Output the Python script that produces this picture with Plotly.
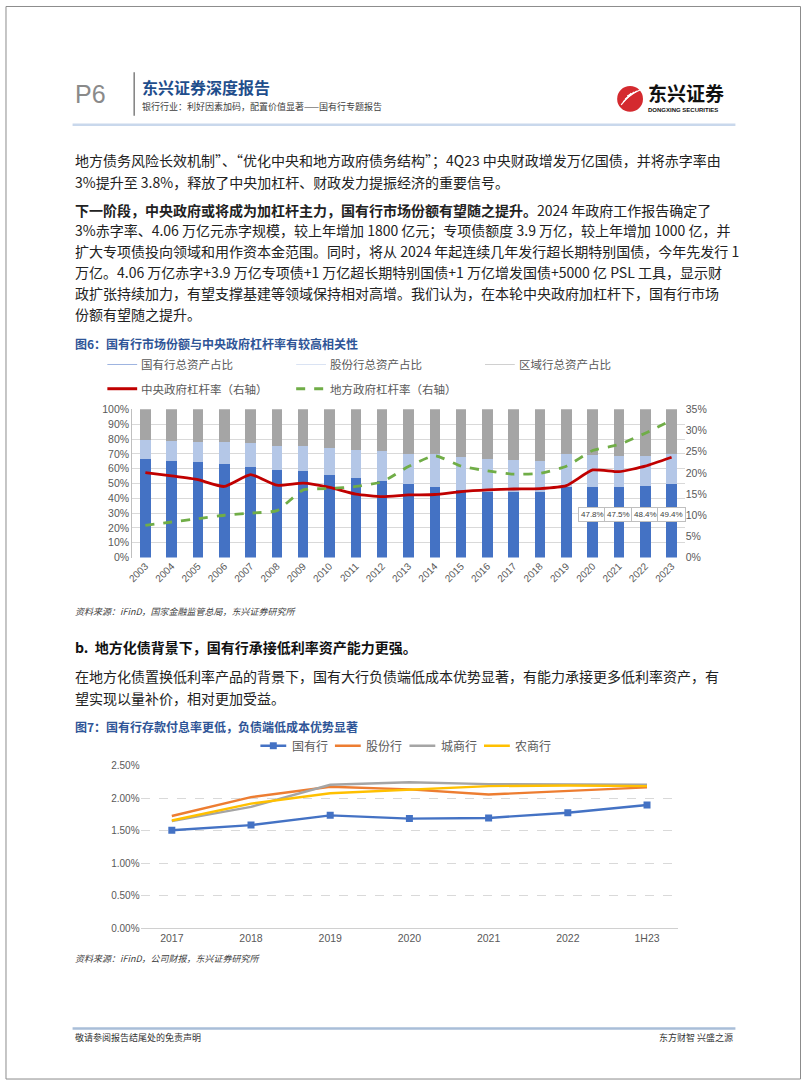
import plotly.graph_objects as go

W, H = 802, 1087

# ---------------- data: chart 1 ----------------
years = ["2003", "2004", "2005", "2006", "2007", "2008", "2009", "2010", "2011", "2012", "2013",
         "2014", "2015", "2016", "2017", "2018", "2019", "2020", "2021", "2022", "2023"]
soe_share = [66.7, 65.1, 64.4, 63.3, 61.3, 59.1, 58.4, 55.8, 54.0, 51.8, 49.6,
             47.8, 45.3, 44.0, 44.0, 44.2, 47.8, 47.8, 47.5, 48.4, 49.4]
joint_share = [12.6, 13.6, 13.8, 14.5, 16.0, 16.5, 17.2, 18.2, 18.9, 20.0, 20.4,
               21.8, 22.5, 22.4, 21.6, 20.9, 21.8, 21.5, 21.4, 20.5, 20.2]
regional_share = [20.7, 21.3, 21.8, 22.2, 22.7, 24.4, 24.4, 26.0, 27.1, 28.2, 30.0,
                  30.4, 32.2, 33.6, 34.4, 34.9, 30.4, 30.7, 31.1, 31.1, 30.4]
central_lev = [20.1, 19.3, 18.4, 16.8, 19.6, 17.1, 17.6, 16.6, 15.0, 14.4, 14.8,
               14.9, 15.6, 16.0, 16.2, 16.3, 17.0, 20.7, 20.3, 21.6, 23.7]
local_lev = [7.6, 8.4, 9.2, 10.0, 10.5, 11.1, 16.0, 16.3, 16.8, 17.9, 21.5,
             24.1, 21.6, 20.5, 19.7, 19.9, 21.6, 25.3, 26.7, 29.4, 32.5]
labeled_years = ["2020", "2021", "2022", "2023"]
series1_names = ["国有行总资产占比", "股份行总资产占比", "区域行总资产占比",
                 "中央政府杠杆率（右轴）", "地方政府杠杆率（右轴）"]

# ---------------- data: chart 2 ----------------
periods = ["2017", "2018", "2019", "2020", "2021", "2022", "1H23"]
bank_names = ["国有行", "股份行", "城商行", "农商行"]
soe_rate = [1.51, 1.59, 1.74, 1.69, 1.70, 1.78, 1.90]
joint_rate = [1.73, 2.02, 2.18, 2.14, 2.06, 2.12, 2.17]
city_rate = [1.65, 1.87, 2.21, 2.25, 2.22, 2.21, 2.21]
rural_rate = [1.66, 1.92, 2.08, 2.14, 2.19, 2.20, 2.19]

# ---------------- texts ----------------
header_title = "东兴证券深度报告"
header_sub = "银行行业：利好因素加码，配置价值显著——国有行专题报告"
para1 = ["地方债务风险长效机制”、“优化中央和地方政府债务结构”；4Q23 中央财政增发万亿国债，并将赤字率由",
         "3%提升至 3.8%，释放了中央加杠杆、财政发力提振经济的重要信号。"]
para2 = ["<b>下一阶段，中央政府或将成为加杠杆主力，国有行市场份额有望随之提升。</b>2024 年政府工作报告确定了",
         "3%赤字率、4.06 万亿元赤字规模，较上年增加 1800 亿元；专项债额度 3.9 万亿，较上年增加 1000 亿，并",
         "扩大专项债投向领域和用作资本金范围。同时，将从 2024 年起连续几年发行超长期特别国债，今年先发行 1",
         "万亿。4.06 万亿赤字+3.9 万亿专项债+1 万亿超长期特别国债+1 万亿增发国债+5000 亿 PSL 工具，显示财",
         "政扩张持续加力，有望支撑基建等领域保持相对高增。我们认为，在本轮中央政府加杠杆下，国有行市场",
         "份额有望随之提升。"]
fig6_title = "图6：国有行市场份额与中央政府杠杆率有较高相关性"
fig6_src = "资料来源：iFinD，国家金融监管总局，东兴证券研究所"
sec_b = "b.  地方化债背景下，国有行承接低利率资产能力更强。"
para3 = ["在地方化债置换低利率产品的背景下，国有大行负债端低成本优势显著，有能力承接更多低利率资产，有",
         "望实现以量补价，相对更加受益。"]
fig7_title = "图7：国有行存款付息率更低，负债端低成本优势显著"
fig7_src = "资料来源：iFinD，公司财报，东兴证券研究所"
footer_left = "敬请参阅报告结尾处的免责声明"
footer_right = "东方财智 兴盛之源"


def X(p):
    return p / W


def Y(p):
    return 1 - p / H


CJK = "Noto Sans CJK SC, Liberation Sans, sans-serif"
NUM = "Liberation Sans, Arial, sans-serif"
GREY = "#595959"
BODY = 14

fig = go.Figure()

# chart 1 bars
bar_colors = ["#4472C4", "#B4C7E7", "#A5A5A5"]
for name, vals, col in zip(series1_names[:3], [soe_share, joint_share, regional_share], bar_colors):
    fig.add_trace(go.Bar(x=years, y=vals, name=name, marker=dict(color=col, line=dict(width=0)),
                         xaxis="x", yaxis="y", showlegend=False))
fig.add_trace(go.Scatter(x=years, y=central_lev, name=series1_names[3], mode="lines",
                         line=dict(color="#C00000", width=2.8, shape="spline", smoothing=0.5),
                         xaxis="x", yaxis="y2", showlegend=False))
fig.add_trace(go.Scatter(x=years, y=local_lev, name=series1_names[4], mode="lines",
                         line=dict(color="#70AD47", width=2.8, dash="dash", shape="spline", smoothing=0.5),
                         xaxis="x", yaxis="y2", showlegend=False))

# chart 2 lines
line_colors = ["#4472C4", "#ED7D31", "#A5A5A5", "#FFC000"]
for i, (name, vals, col) in enumerate(zip(bank_names, [soe_rate, joint_rate, city_rate, rural_rate], line_colors)):
    fig.add_trace(go.Scatter(x=periods, y=vals, name=name,
                             mode="lines+markers" if i == 0 else "lines",
                             marker=dict(symbol="square", size=7, color=col),
                             line=dict(color=col, width=2.4),
                             xaxis="x2", yaxis="y3", showlegend=False))

ann = []
shapes = []


def text(x, y, s, size, color="#222", bold=False, italic=False, anchor="left", family=CJK):
    if bold:
        s = "<b>" + s + "</b>"
    if italic:
        s = "<i>" + s + "</i>"
    ann.append(dict(x=X(x), y=Y(y), xref="paper", yref="paper", text=s, showarrow=False,
                    xanchor=anchor, yanchor="middle", font=dict(size=size, color=color, family=family)))


def hline(x0, x1, y, color, width, dash="solid"):
    shapes.append(dict(type="line", xref="paper", yref="paper", x0=X(x0), x1=X(x1), y0=Y(y), y1=Y(y),
                       line=dict(color=color, width=width, dash=dash)))


# page border
shapes.append(dict(type="rect", xref="paper", yref="paper", x0=X(1), x1=X(800.5), y0=Y(0.5), y1=Y(1085),
                   line=dict(color="#8c8c8c", width=1), fillcolor="rgba(0,0,0,0)"))

# header
text(68, 89, "P6", 25, color="#8a8a8a", family="Liberation Sans Narrow, Liberation Sans, sans-serif")
shapes.append(dict(type="line", xref="paper", yref="paper", x0=X(130), x1=X(130), y0=Y(67), y1=Y(111),
                   line=dict(color="#7f7f7f", width=1.5)))
text(136, 82, header_title, 16, color="#1F4E8C", bold=True)
text(136, 102, header_sub, 9, color="#404040")
hline(68, 735, 120, "#C9D8EC", 2.5)
# logo
shapes.append(dict(type="circle", xref="paper", yref="paper", x0=X(616), x1=X(642), y0=Y(107), y1=Y(81),
                   fillcolor="#D42A2F", line=dict(width=0)))
for k in range(4):
    shapes.append(dict(type="line", xref="paper", yref="paper",
                       x0=X(620 + k * 2), x1=X(630 + k * 3), y0=Y(100 - k * 3), y1=Y(88 - k),
                       line=dict(color="white", width=1.2)))
text(645, 87, "东兴证券", 19, color="#111", bold=True)
text(645, 105, "DONGXING SECURITIES", 6, color="#111", bold=True, family=NUM)

# body text
for i, s in enumerate(para1):
    text(68, 156 + i * 22, s, BODY)
for i, s in enumerate(para2):
    text(68, 206 + i * 21, s, BODY)

text(68, 341, fig6_title, 12, color="#2F5597", bold=True)

# chart 1 legend
leg_rows = [362.5, 387]
leg_items = [(103, 135, leg_rows[0], "#9DB4E0", 1, "solid"),
             (293, 325, leg_rows[0], "#DAE3F3", 1, "solid"),
             (483, 515, leg_rows[0], "#D0D0D0", 1, "solid"),
             (103, 135, leg_rows[1], "#C00000", 3, "solid"),
             (293, 325, leg_rows[1], "#70AD47", 3, "dash")]
for (x0, tx, y, col, wd, ds), name in zip(leg_items, series1_names):
    hline(x0, x0 + 30, y, col, wd, ds)
    text(tx, y, name, 11.5, color=GREY)

# data labels (2020-2023), placed by category index
for yr in labeled_years:
    idx = years.index(yr)
    v = soe_share[idx]
    ann.append(dict(x=idx, y=0.24, xref="x", yref="y domain", text=f"{v:.1f}%", showarrow=False,
                    font=dict(size=8, color="#404040", family=NUM), bgcolor="white",
                    bordercolor="#BFBFBF", borderwidth=1, borderpad=2))

text(68, 612, fig6_src, 9, color="#404040", italic=True)
text(68, 648, sec_b, 14, color="#111", bold=True)
for i, s in enumerate(para3):
    text(68, 677 + i * 23, s, BODY)
text(68, 729, fig7_title, 12, color="#2F5597", bold=True)

# chart 2 legend
leg2_x = [257, 332, 407, 482]
for x0, name, col, i in zip(leg2_x, bank_names, line_colors, range(4)):
    hline(x0, x0 + 26, 748, col, 2.5)
    if i == 0:
        shapes.append(dict(type="rect", xref="paper", yref="paper", x0=X(x0 + 9.5), x1=X(x0 + 16.5),
                           y0=Y(751.5), y1=Y(744.5), fillcolor=col, line=dict(width=0)))
    text(x0 + 29.5, 748, name, 12, color=GREY)

text(68, 963, fig7_src, 9, color="#404040", italic=True)

# footer
hline(68, 735, 1034, "#A9BED8", 2.5)
text(68, 1043, footer_left, 9, color="#333")
text(735, 1043, footer_right, 9, color="#333", anchor="right")

fig.update_layout(
    width=W, height=H, margin=dict(l=0, r=0, t=0, b=0),
    paper_bgcolor="white", plot_bgcolor="white",
    font=dict(family=CJK, color=GREY),
    barmode="stack", bargap=0.6,
    annotations=ann, shapes=shapes,
    xaxis=dict(domain=[X(128), X(684)], anchor="y", type="category", tickangle=-45,
               range=[-0.5, len(years) - 0.5], autorange=False,
               tickfont=dict(size=10, color=GREY, family=NUM), showline=False, ticks="",
               showgrid=False, zeroline=False),
    yaxis=dict(domain=[Y(557.7), Y(407.7)], anchor="x", range=[0, 100.2], dtick=10, ticksuffix="%",
               tickfont=dict(size=10.5, color=GREY, family=NUM), showgrid=True, gridcolor="#D9D9D9",
               gridwidth=1, showline=True, linecolor="#BFBFBF", zeroline=False, ticks=""),
    yaxis2=dict(overlaying="y", side="right", anchor="x", range=[0, 35.07], dtick=5, ticksuffix="%",
                tickfont=dict(size=10.5, color=GREY, family=NUM), showgrid=False, zeroline=False,
                showline=False, ticks=""),
    xaxis2=dict(domain=[X(136.4), X(677.5)], anchor="y3", type="category",
                tickfont=dict(size=10.5, color=GREY, family=NUM), showline=True, linecolor="#D0D0D0",
                showgrid=False, zeroline=False, ticks=""),
    yaxis3=dict(domain=[Y(932.7), Y(768.3)], anchor="x2", range=[0, 2.502], dtick=0.5,
                tickformat=".2f", ticksuffix="%", tickfont=dict(size=10, color=GREY, family=NUM),
                showgrid=True, gridcolor="#D9D9D9", griddash="dash", zeroline=False, showline=False,
                ticks=""),
)

fig.write_html("out.html", config={"displayModeBar": False},
               post_script="document.body.style.margin='0';document.body.style.padding='0';"
                           "document.body.style.overflow='hidden';")
